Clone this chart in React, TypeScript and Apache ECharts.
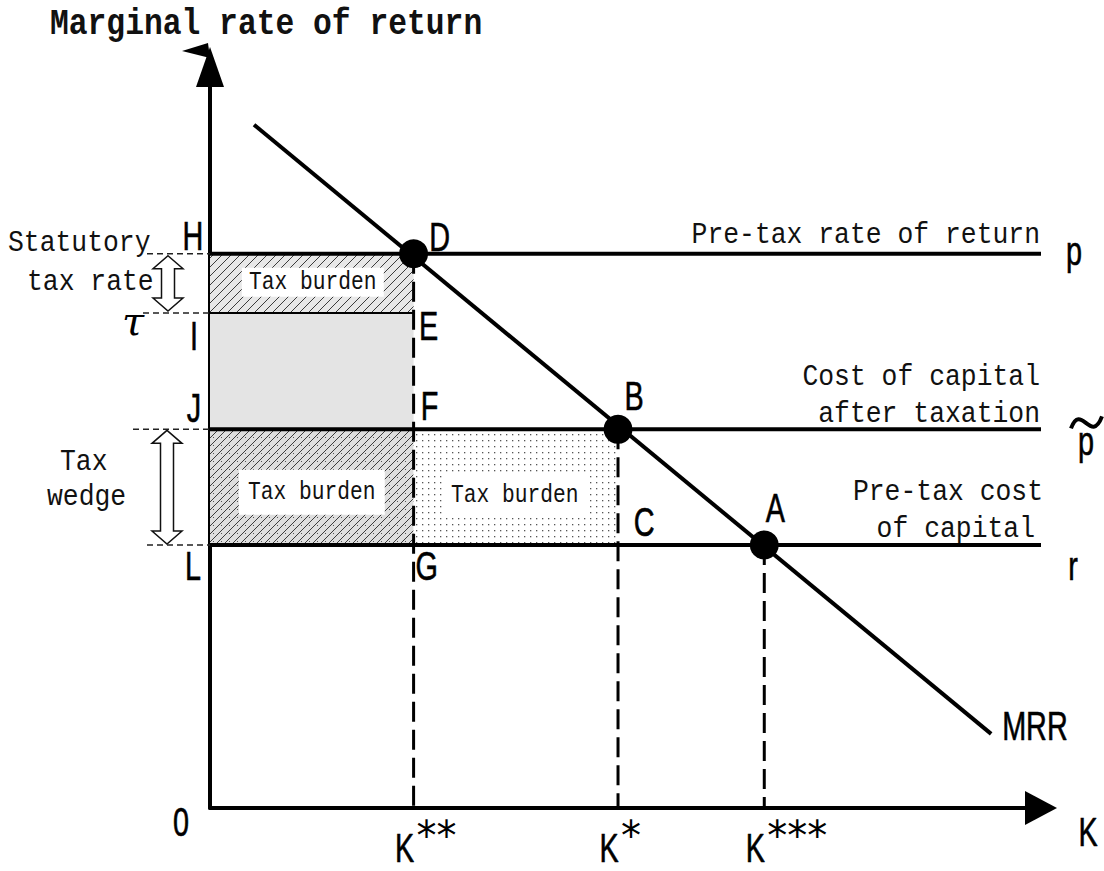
import React, { useEffect, useRef } from 'react';
import * as echarts from 'echarts';

// ---- Data (schematic units on a 0–100 scale for both axes) ----
// Capital stock levels on the K axis
const capitalNames = ['K**', 'K*', 'K***'];
const capitalValues = [24.5, 49.1, 66.7];
// Rate levels on the vertical axis: p (pre-tax rate of return), p~ (cost of capital after taxation), r (pre-tax cost of capital)
const rateNames = ['p', 'p~', 'r'];
const rateValues = [74.8, 51.1, 35.5];
// Level of the statutory-tax-rate line (I–E)
const taxRateLevel = 66.8;
// MRR (marginal rate of return) curve end points
const mrrX = [5.3, 94];
const mrrY = [92.2, 10];
// Intersection points
const pointNames = ['D', 'B', 'A'];
const pointX = [24.5, 49.1, 66.7];
const pointY = [74.8, 51.1, 35.5];
// Shaded regions
const regionX0 = [0, 0, 0, 24.5];
const regionX1 = [24.5, 24.5, 24.5, 49.1];
const regionY0 = [66.8, 51.1, 35.5, 35.5];
const regionY1 = [74.8, 66.8, 51.1, 51.1];
const regionFill = ['hatch', 'gray', 'hatchDots', 'dots'];
const regionLabel = ['Tax burden', '', 'Tax burden', 'Tax burden'];

function makePattern(kind: string): any {
  const c = document.createElement('canvas');
  let size = 9;
  if (kind === 'dots') size = 6;
  if (kind === 'hatchDots') size = 8;
  c.width = size;
  c.height = size;
  const ctx = c.getContext('2d')!;
  if (kind === 'hatch') {
    ctx.fillStyle = '#e8e8e8';
    ctx.fillRect(0, 0, size, size);
    ctx.strokeStyle = '#3c3c3c';
    ctx.lineWidth = 1;
    ctx.beginPath();
    ctx.moveTo(0, size); ctx.lineTo(size, 0);
    ctx.moveTo(-1, 1); ctx.lineTo(1, -1);
    ctx.moveTo(size - 1, size + 1); ctx.lineTo(size + 1, size - 1);
    ctx.stroke();
  } else if (kind === 'hatchDots') {
    ctx.fillStyle = '#dedede';
    ctx.fillRect(0, 0, size, size);
    ctx.strokeStyle = '#3c3c3c';
    ctx.lineWidth = 1;
    ctx.beginPath();
    ctx.moveTo(0, size); ctx.lineTo(size, 0);
    ctx.moveTo(-1, 1); ctx.lineTo(1, -1);
    ctx.moveTo(size - 1, size + 1); ctx.lineTo(size + 1, size - 1);
    ctx.stroke();
    ctx.fillStyle = '#555';
    ctx.fillRect(5, 5, 1, 1);
  } else if (kind === 'dots') {
    ctx.fillStyle = '#ffffff';
    ctx.fillRect(0, 0, size, size);
    ctx.fillStyle = '#555';
    ctx.fillRect(2, 2, 1.3, 1.3);
  } else {
    ctx.fillStyle = '#e4e4e4';
    ctx.fillRect(0, 0, size, size);
  }
  return { image: c.toDataURL(), repeat: 'repeat', imageWidth: size, imageHeight: size };
}

const LETTER_FONT = 'Liberation Sans, Arial, sans-serif';
const MONO_FONT = 'Liberation Mono, DejaVu Sans Mono, monospace';

export default function App() {
  const ref = useRef<HTMLDivElement>(null);

  useEffect(() => {
    const el = ref.current!;
    const chart = echarts.init(el, null, { renderer: 'svg' });

    const fills: Record<string, any> = {
      hatch: makePattern('hatch'),
      hatchDots: makePattern('hatchDots'),
      dots: makePattern('dots'),
      gray: '#e4e4e4',
    };

    const black = '#000';
    const hidden = { show: false };

    const option: any = {
      animation: false,
      backgroundColor: '#fff',
      grid: { left: 210, right: 63, top: 67, bottom: 63 },
      xAxis: {
        type: 'value', min: 0, max: 100,
        axisLine: { show: true, lineStyle: { color: black, width: 4 }, symbol: ['none', 'triangle'], symbolSize: [34, 32] },
        axisTick: hidden, axisLabel: hidden, splitLine: hidden,
      },
      yAxis: {
        type: 'value', min: 0, max: 100,
        axisLine: { show: true, lineStyle: { color: black, width: 4 }, symbol: ['none', 'triangle'], symbolSize: [28, 40] },
        axisTick: hidden, axisLabel: hidden, splitLine: hidden,
      },
      series: [
        {
          type: 'custom',
          silent: true,
          z: 1,
          encode: { x: [0, 1], y: [2, 3] },
          data: regionX0.map((_, i) => [regionX0[i], regionX1[i], regionY0[i], regionY1[i]]),
          renderItem: (params: any, api: any) => {
            const a = api.coord([api.value(0), api.value(3)]);
            const b = api.coord([api.value(1), api.value(2)]);
            return {
              type: 'rect',
              shape: { x: a[0], y: a[1], width: b[0] - a[0], height: b[1] - a[1] },
              style: { fill: fills[regionFill[params.dataIndex]] },
            };
          },
        },
        // statutory tax-rate line I–E
        {
          type: 'line', silent: true, z: 3, symbol: 'none',
          data: [[0, taxRateLevel], [capitalValues[0], taxRateLevel]],
          lineStyle: { color: black, width: 2 },
        },
        // rate levels p, p~, r
        ...rateValues.map((v) => ({
          type: 'line', silent: true, z: 3, symbol: 'none',
          data: [[0, v], [100, v]],
          lineStyle: { color: black, width: 4 },
        })),
        // dashed drop lines to the K axis
        ...capitalValues.map((k, i) => ({
          type: 'line', silent: true, z: 2, symbol: 'none',
          data: [[k, rateValues[i]], [k, 0]],
          lineStyle: { color: black, width: 3, type: [20, 8] },
        })),
        // MRR curve
        {
          type: 'line', silent: true, z: 4, symbol: 'none',
          data: mrrX.map((x, i) => [x, mrrY[i]]),
          lineStyle: { color: black, width: 4 },
        },
        // intersection points
        {
          type: 'scatter', silent: true, z: 5,
          data: pointX.map((x, i) => [x, pointY[i]]),
          symbolSize: 29,
          itemStyle: { color: black, opacity: 1 },
        },
      ],
    };

    chart.setOption(option);

    const px = (x: number, y: number) => chart.convertToPixel({ gridIndex: 0 } as any, [x, y]) as number[];

    const letter = (text: string, p: number[], dx: number, dy: number, align = 'center', size = 40, sx = 0.72) => ({
      type: 'text', x: p[0] + dx, y: p[1] + dy, scaleX: sx, z: 30, silent: true,
      style: { text, fontSize: size, fontFamily: LETTER_FONT, fill: black, stroke: black, lineWidth: 0.6, align, verticalAlign: 'middle', textAlign: align, textVerticalAlign: 'middle' },
    });
    const mono = (text: string, p: number[], dx: number, dy: number, align = 'left', size = 30, sx = 0.88, weight = 'normal') => ({
      type: 'text', x: p[0] + dx, y: p[1] + dy, scaleX: sx, z: 30, silent: true,
      style: { text, fontSize: size, fontFamily: MONO_FONT, fontWeight: weight, fill: '#111', align, verticalAlign: 'middle', textAlign: align, textVerticalAlign: 'middle' },
    });
    const dashed = (y: number[], x0: number, x1: number) => ({
      type: 'line', z: 10, silent: true,
      shape: { x1: y[0] + x0, y1: y[1], x2: y[0] + x1, y2: y[1] },
      style: { stroke: '#222', lineWidth: 1.5, lineDash: [6, 4] },
    });
    const dblArrow = (cx: number, yt: number, yb: number) => ({
      type: 'polygon', z: 12, silent: true,
      shape: {
        points: [
          [cx, yt], [cx + 15, yt + 13], [cx + 6.5, yt + 13], [cx + 6.5, yb - 13], [cx + 15, yb - 13],
          [cx, yb], [cx - 15, yb - 13], [cx - 6.5, yb - 13], [cx - 6.5, yt + 13], [cx - 15, yt + 13],
        ],
      },
      style: { fill: '#fff', stroke: '#111', lineWidth: 1.5 },
    });

    const O = px(0, 0);
    const top = px(0, 100);
    const xEnd = px(100, 0);
    const pP = px(0, rateValues[0]);
    const pT = px(0, taxRateLevel);
    const pPt = px(0, rateValues[1]);
    const pR = px(0, rateValues[2]);
    const kdd = capitalValues[0];

    const elements: any[] = [];

    // white label boxes in regions
    const boxSizes = [[142, 29, 1, -1], [0, 0, 0, 0], [146, 45, 0, 5], [145, 40, -1, 8]];
    regionLabel.forEach((lab, i) => {
      if (!lab) return;
      const c = px((regionX0[i] + regionX1[i]) / 2, (regionY0[i] + regionY1[i]) / 2);
      const [w, h, dx, dy] = boxSizes[i];
      const cx = c[0] + dx, cy = c[1] + dy;
      elements.push({ type: 'rect', z: 8, silent: true, shape: { x: cx - w / 2, y: cy - h / 2, width: w, height: h }, style: { fill: '#fff' } });
      elements.push(mono(lab, [cx, cy], 0, 0, 'center', 25, 0.85));
    });

    // title
    elements.push(mono('Marginal rate of return', top, -160, -43, 'left', 36, 0.87, 'bold'));
    // flag artefact at the arrow tip
    elements.push({
      type: 'polygon', z: 12, silent: true,
      shape: { points: [[top[0] - 28, top[1] - 16], [top[0] - 2, top[1] - 24], [top[0], top[1] - 9]] },
      style: { fill: black },
    });

    // left guides and double arrows
    elements.push(dashed(pP, -63, 0));
    elements.push(dashed(pT, -67, 0));
    elements.push(dashed(pPt, -77, 0));
    elements.push(dashed(pR, -63, 0));
    elements.push(dblArrow(pP[0] - 42, pP[1] + 2, pT[1] - 2));
    elements.push(dblArrow(pP[0] - 43, pPt[1] + 1, pR[1] - 1));
    elements.push(mono('Statutory', pP, -202, -11, 'left', 30, 0.88));
    elements.push(mono('tax rate', pT, -183, -32, 'left', 30, 0.88));
    elements.push(mono('Tax', pPt, -150, 32, 'left', 30, 0.88));
    elements.push(mono('wedge', pPt, -163, 67, 'left', 30, 0.88));
    elements.push({
      type: 'text', x: pT[0] - 77, y: pT[1] + 8, z: 30, silent: true,
      style: { text: 'τ', fontSize: 40, fontStyle: 'italic', fontFamily: 'DejaVu Serif, serif', fill: black, align: 'center', verticalAlign: 'middle', textAlign: 'center', textVerticalAlign: 'middle' },
    });

    // right annotations
    const rP = px(100, rateValues[0]);
    const rPt = px(100, rateValues[1]);
    const rR = px(100, rateValues[2]);
    elements.push(mono('Pre-tax rate of return', rP, -1, -19, 'right'));
    elements.push(mono('Cost of capital', rPt, -1, -53, 'right'));
    elements.push(mono('after taxation', rPt, -1, -16, 'right'));
    elements.push(mono('Pre-tax cost', rR, 2, -53, 'right'));
    elements.push(mono('of capital', rR, -6, -16, 'right'));

    // rate symbols on the right
    elements.push(letter(rateNames[0], rP, 33, -3));
    elements.push(letter('p', rPt, 45, 11));
    elements.push({
      type: 'bezierCurve', z: 30, silent: true,
      shape: { x1: rPt[0] + 30, y1: rPt[1] - 1, cpx1: rPt[0] + 40, cpy1: rPt[1] - 28, cpx2: rPt[0] + 50, cpy2: rPt[1] + 16, x2: rPt[0] + 61, y2: rPt[1] - 13 },
      style: { stroke: black, lineWidth: 4, fill: null },
    });
    elements.push(letter(rateNames[2], rR, 32, 21));

    // left letters
    elements.push(letter('H', pP, -17, -18));
    elements.push(letter('I', pT, -16, 23));
    elements.push(letter('J', pPt, -16, -22));
    elements.push(letter('L', pR, -17, 21));
    // letters at K**
    elements.push(letter('E', px(kdd, taxRateLevel), 15, 13));
    elements.push(letter('F', px(kdd, rateValues[1]), 16, -24));
    elements.push(letter('G', px(kdd, rateValues[2]), 13, 21));
    elements.push(letter('C', px(capitalValues[1], rateValues[2]), 26, -23));
    // intersection labels
    const pointOffsets = [[26, -17], [16, -34], [11, -37]];
    pointNames.forEach((n, i) => {
      elements.push(letter(n, px(pointX[i], pointY[i]), pointOffsets[i][0], pointOffsets[i][1]));
    });
    // MRR label
    elements.push(letter('MRR', px(mrrX[1], mrrY[1]), 11, -8, 'left'));
    // origin and axis name
    elements.push(letter('0', O, -29, 14));
    elements.push(letter('K', xEnd, 47, 24));
    // capital labels
    capitalNames.forEach((n, i) => {
      const a = px(capitalValues[i], 0);
      elements.push(letter('K', a, -9, 40));
      elements.push({
        type: 'text', x: a[0] + 3, y: a[1] + 28, z: 30, silent: true,
        style: { text: n.slice(1), fontSize: 40, fontFamily: 'DejaVu Sans, sans-serif', fill: black, align: 'left', verticalAlign: 'middle', textAlign: 'left', textVerticalAlign: 'middle' },
      });
    });

    chart.setOption({ graphic: { elements } });

    return () => chart.dispose();
  }, []);

  return <div ref={ref} style={{ position: 'absolute', left: 0, top: 0, width: 1104, height: 871, background: '#fff' }} />;
}
